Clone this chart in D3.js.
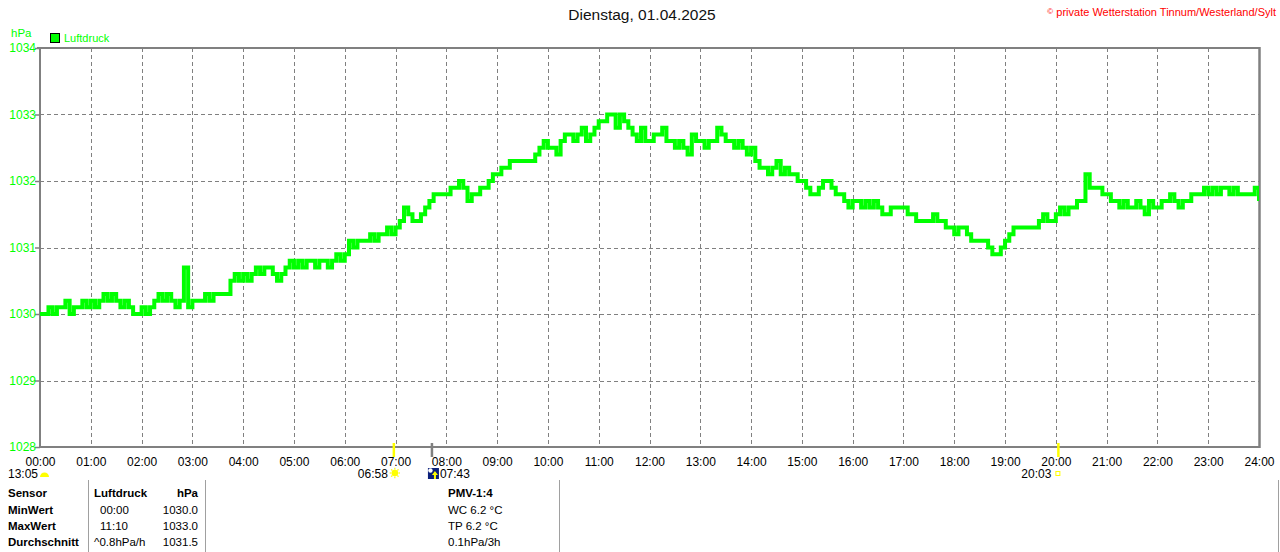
<!DOCTYPE html>
<html><head><meta charset="utf-8">
<script src="https://cdn.jsdelivr.net/npm/d3@7"></script>
<style>
html,body{margin:0;padding:0;background:#fff;}
svg{display:block;font-family:"Liberation Sans",Arial,sans-serif;}
</style></head><body>
<svg id="chart" width="1280" height="552"></svg>
<script>
// ---- data ----
const title = "Dienstag, 01.04.2025";
const copyright = "private Wetterstation Tinnum/Westerland/Sylt";
const seriesName = "Luftdruck";
const unit = "hPa";
const yTicks = [1028, 1029, 1030, 1031, 1032, 1033, 1034];
const xTickLabels = ["00:00","01:00","02:00","03:00","04:00","05:00","06:00","07:00","08:00","09:00","10:00","11:00","12:00","13:00","14:00","15:00","16:00","17:00","18:00","19:00","20:00","21:00","22:00","23:00","24:00"];
const stepMinutes = 5;
// air pressure every 5 minutes, 00:00 .. 24:00
const pressure = [
1030.0,1030.0,1030.1,1030.0,1030.1,1030.1,1030.2,1030.0,1030.1,1030.1,1030.2,1030.1,
1030.2,1030.1,1030.2,1030.3,1030.2,1030.3,1030.2,1030.1,1030.2,1030.1,1030.0,1030.0,
1030.1,1030.0,1030.1,1030.2,1030.3,1030.2,1030.3,1030.2,1030.1,1030.2,1030.7,1030.1,
1030.2,1030.2,1030.2,1030.3,1030.2,1030.3,1030.3,1030.3,1030.3,1030.5,1030.6,1030.5,
1030.6,1030.5,1030.6,1030.7,1030.6,1030.7,1030.7,1030.6,1030.5,1030.6,1030.7,1030.8,
1030.7,1030.8,1030.7,1030.8,1030.8,1030.7,1030.8,1030.8,1030.7,1030.8,1030.9,1030.8,
1030.9,1031.1,1031.0,1031.1,1031.1,1031.1,1031.2,1031.1,1031.2,1031.2,1031.3,1031.2,
1031.3,1031.4,1031.6,1031.5,1031.4,1031.4,1031.5,1031.6,1031.7,1031.8,1031.8,1031.8,
1031.8,1031.9,1031.9,1032.0,1031.9,1031.7,1031.8,1031.8,1031.9,1031.9,1032.0,1032.1,
1032.1,1032.2,1032.2,1032.3,1032.3,1032.3,1032.3,1032.3,1032.3,1032.4,1032.5,1032.6,
1032.5,1032.5,1032.4,1032.6,1032.7,1032.7,1032.6,1032.7,1032.8,1032.6,1032.7,1032.8,
1032.9,1032.9,1033.0,1033.0,1032.8,1033.0,1032.9,1032.8,1032.7,1032.6,1032.8,1032.6,
1032.6,1032.7,1032.7,1032.8,1032.6,1032.6,1032.5,1032.6,1032.5,1032.4,1032.7,1032.6,
1032.6,1032.5,1032.6,1032.6,1032.8,1032.7,1032.6,1032.6,1032.5,1032.6,1032.5,1032.4,
1032.5,1032.3,1032.2,1032.2,1032.1,1032.2,1032.3,1032.1,1032.2,1032.1,1032.1,1032.0,
1032.0,1031.9,1031.8,1031.8,1031.9,1032.0,1032.0,1031.9,1031.8,1031.8,1031.7,1031.6,
1031.7,1031.7,1031.6,1031.7,1031.6,1031.7,1031.6,1031.5,1031.5,1031.6,1031.6,1031.6,
1031.6,1031.5,1031.5,1031.4,1031.4,1031.4,1031.4,1031.5,1031.4,1031.4,1031.3,1031.3,
1031.2,1031.3,1031.3,1031.2,1031.1,1031.1,1031.1,1031.1,1031.0,1030.9,1030.9,1031.0,
1031.1,1031.2,1031.3,1031.3,1031.3,1031.3,1031.3,1031.3,1031.4,1031.5,1031.4,1031.4,
1031.5,1031.6,1031.5,1031.6,1031.6,1031.7,1031.7,1032.1,1031.9,1031.9,1031.9,1031.8,
1031.8,1031.7,1031.7,1031.6,1031.7,1031.6,1031.6,1031.7,1031.6,1031.5,1031.7,1031.6,
1031.6,1031.7,1031.7,1031.8,1031.7,1031.6,1031.7,1031.7,1031.8,1031.8,1031.8,1031.9,
1031.8,1031.9,1031.8,1031.9,1031.9,1031.8,1031.9,1031.8,1031.8,1031.8,1031.8,1031.9,
1031.7
];
// sun / moon events (hours)
const sunrise = {label:"06:58", hour: 6 + 58/60};
const sunset  = {label:"20:03", hour: 20 + 3/60};
const moonrise = {label:"07:43", hour: 7 + 43/60};
const moonInfo = {label:"13:05"};
// statistics table
const statHeader = ["Sensor", "Luftdruck", "hPa"];
const statLabels = ["MinWert", "MaxWert", "Durchschnitt"];
const statTimes  = ["00:00", "11:10", "^0.8hPa/h"];
const statValues = ["1030.0", "1033.0", "1031.5"];
const pmvLines = ["PMV-1:4", "WC 6.2 °C", "TP 6.2 °C", "0.1hPa/3h"];

// ---- layout ----
const L = 40, R = 1259, T = 48, B = 447;
const GREEN = "#00ff00", GRAY = "#808080";
const svg = d3.select("#chart");
const x = d3.scaleLinear().domain([0, 24]).range([L, R]);
const y = d3.scaleLinear().domain([1028, 1034]).range([B, T]);

// title & copyright
svg.append("text").attr("x", 642).attr("y", 20).attr("text-anchor","middle")
  .attr("font-size", 15.5).attr("fill", "#111").text(title);
const cp = svg.append("text").attr("x", 1276).attr("y", 16).attr("text-anchor","end")
  .attr("font-size", 11).attr("fill", "#ff0000");
cp.append("tspan").attr("font-size", 8).attr("dy", -2).text("©");
cp.append("tspan").attr("dy", 2).text(" " + copyright);

// unit & legend
svg.append("text").attr("x", 11).attr("y", 37).attr("font-size", 11.5).attr("fill", GREEN).text(unit);
svg.append("rect").attr("x", 50.5).attr("y", 33.5).attr("width", 9).attr("height", 9)
  .attr("fill", GREEN).attr("stroke", "#000").attr("stroke-width", 1);
svg.append("text").attr("x", 64).attr("y", 42).attr("font-size", 11).attr("fill", GREEN).text(seriesName);

// grid
const grid = svg.append("g").attr("stroke", GRAY).attr("stroke-width", 1).attr("stroke-dasharray", "4,3");
grid.selectAll("line.v").data(d3.range(1, 24)).join("line").attr("class","v")
  .attr("x1", d => Math.round(x(d)) + 0.5).attr("x2", d => Math.round(x(d)) + 0.5)
  .attr("y1", T).attr("y2", B);
grid.selectAll("line.h").data(yTicks.slice(1, -1)).join("line").attr("class","h")
  .attr("y1", d => Math.round(y(d)) + 0.5).attr("y2", d => Math.round(y(d)) + 0.5)
  .attr("x1", L).attr("x2", R);

// axes
const yAxis = d3.axisLeft(y).tickValues(yTicks).tickSize(5).tickFormat(d3.format("d"));
const gy = svg.append("g").attr("transform", `translate(${L},0)`).call(yAxis);
gy.select(".domain").remove();
gy.selectAll(".tick line").attr("stroke", GRAY).attr("stroke-width", 1.5);
gy.selectAll(".tick text").attr("fill", GREEN).attr("font-size", 12)
  .attr("font-family", '"Liberation Sans",Arial,sans-serif').attr("x", -4);

const xAxis = d3.axisBottom(x).tickValues(d3.range(0, 25)).tickSize(0)
  .tickFormat((d, i) => xTickLabels[i]);
const gx = svg.append("g").attr("transform", `translate(0,${B})`).call(xAxis);
gx.select(".domain").remove();
gx.selectAll(".tick text").attr("fill", "#000").attr("font-size", 12)
  .attr("font-family", '"Liberation Sans",Arial,sans-serif').attr("dy", "1.35em");

// frame
const frame = svg.append("g").attr("stroke", GRAY).attr("fill", "none");
frame.append("line").attr("x1", 37).attr("x2", R + 1).attr("y1", T).attr("y2", T).attr("stroke-width", 2);
frame.append("line").attr("x1", L).attr("x2", L).attr("y1", T - 1).attr("y2", B + 1).attr("stroke-width", 2);
frame.append("line").attr("x1", L).attr("x2", R + 1).attr("y1", B).attr("y2", B).attr("stroke-width", 2);
frame.append("line").attr("x1", R + 0.5).attr("x2", R + 0.5).attr("y1", T - 1).attr("y2", B + 1).attr("stroke-width", 2.5);

// data line
svg.append("clipPath").attr("id", "clip").append("rect")
  .attr("x", L).attr("y", T - 3).attr("width", R - L).attr("height", B - T + 3);
const line = d3.line().x((d, i) => x(i * stepMinutes / 60)).y(d => y(d)).curve(d3.curveStepAfter);
svg.append("path").datum(pressure).attr("d", line).attr("clip-path", "url(#clip)")
  .attr("fill", "none").attr("stroke", GREEN).attr("stroke-width", 4).attr("stroke-linejoin", "miter");

// sun/moon markers on axis
function marker(h, color, w) {
  svg.append("line").attr("x1", x(h)).attr("x2", x(h)).attr("y1", 443).attr("y2", 457)
    .attr("stroke", color).attr("stroke-width", w);
}
marker(sunrise.hour, "#ffff00", 2.5);
marker(moonrise.hour, GRAY, 2.5);
marker(sunset.hour, "#ffff00", 2.5);

const small = 12;
// 13:05 moon info with half disc
svg.append("text").attr("x", 38).attr("y", 478).attr("text-anchor","end").attr("font-size", small).text(moonInfo.label);
svg.append("path").attr("d", d3.arc()({innerRadius:0, outerRadius:4.5, startAngle:-Math.PI/2, endAngle:Math.PI/2}))
  .attr("transform", "translate(44.5,477)").attr("fill", "#ffff00");
// sunrise
svg.append("text").attr("x", x(sunrise.hour) - 6).attr("y", 478).attr("text-anchor","end").attr("font-size", small).text(sunrise.label);
const sun = svg.append("g").attr("transform", `translate(${x(sunrise.hour) + 1},473)`);
sun.append("circle").attr("r", 3.3).attr("fill", "#ffff00");
sun.selectAll("line").data(d3.range(8)).join("line")
  .attr("x1", d => Math.cos(d * Math.PI / 4) * 3.5).attr("y1", d => Math.sin(d * Math.PI / 4) * 3.5)
  .attr("x2", d => Math.cos(d * Math.PI / 4) * 5.2).attr("y2", d => Math.sin(d * Math.PI / 4) * 5.2)
  .attr("stroke", "#ffff00").attr("stroke-width", 1.2);
// moonrise icon
const mx = x(moonrise.hour) - 4;
svg.append("rect").attr("x", mx).attr("y", 468).attr("width", 11).attr("height", 11).attr("fill", "#0a1f7a");
svg.append("circle").attr("cx", mx + 2.5).attr("cy", 470.5).attr("r", 2.2).attr("fill", "#fff");
svg.append("path").attr("d", `M${mx+7},471 L${mx+10},475 L${mx+8},475 L${mx+8},479 L${mx+6},479 L${mx+6},475 L${mx+4},475 Z`).attr("fill", "#ffff00");
svg.append("text").attr("x", mx + 12).attr("y", 478).attr("font-size", small).text(moonrise.label);
// sunset
svg.append("text").attr("x", x(sunset.hour) - 7).attr("y", 478).attr("text-anchor","end").attr("font-size", small).text(sunset.label);
svg.append("rect").attr("x", x(sunset.hour) - 2.5).attr("y", 471.5).attr("width", 4).attr("height", 4)
  .attr("fill", "none").attr("stroke", "#ffff00").attr("stroke-width", 1);

// table
const tb = svg.append("g").attr("font-size", 11.5).attr("fill", "#000");
const rowsY = [497, 514, 530, 546];
tb.append("text").attr("x", 8).attr("y", rowsY[0]).attr("font-weight", "bold").text(statHeader[0]);
tb.append("text").attr("x", 94).attr("y", rowsY[0]).attr("font-weight", "bold").text(statHeader[1]);
tb.append("text").attr("x", 198).attr("y", rowsY[0]).attr("font-weight", "bold").attr("text-anchor","end").text(statHeader[2]);
statLabels.forEach((s, i) => {
  tb.append("text").attr("x", 8).attr("y", rowsY[i + 1]).attr("font-weight", "bold").text(s);
  tb.append("text").attr("x", i < 2 ? 100 : 94).attr("y", rowsY[i + 1]).text(statTimes[i]);
  tb.append("text").attr("x", 198).attr("y", rowsY[i + 1]).attr("text-anchor","end").text(statValues[i]);
});
pmvLines.forEach((s, i) => {
  tb.append("text").attr("x", 448).attr("y", rowsY[i]).attr("font-weight", i === 0 ? "bold" : "normal").text(s);
});
const dv = svg.append("g").attr("stroke", "#a0a0a0").attr("stroke-width", 1);
[88.5, 205.5, 559.5, 1278.5].forEach(xx => dv.append("line").attr("x1", xx).attr("x2", xx).attr("y1", 480).attr("y2", 552));
</script>
</body></html>
